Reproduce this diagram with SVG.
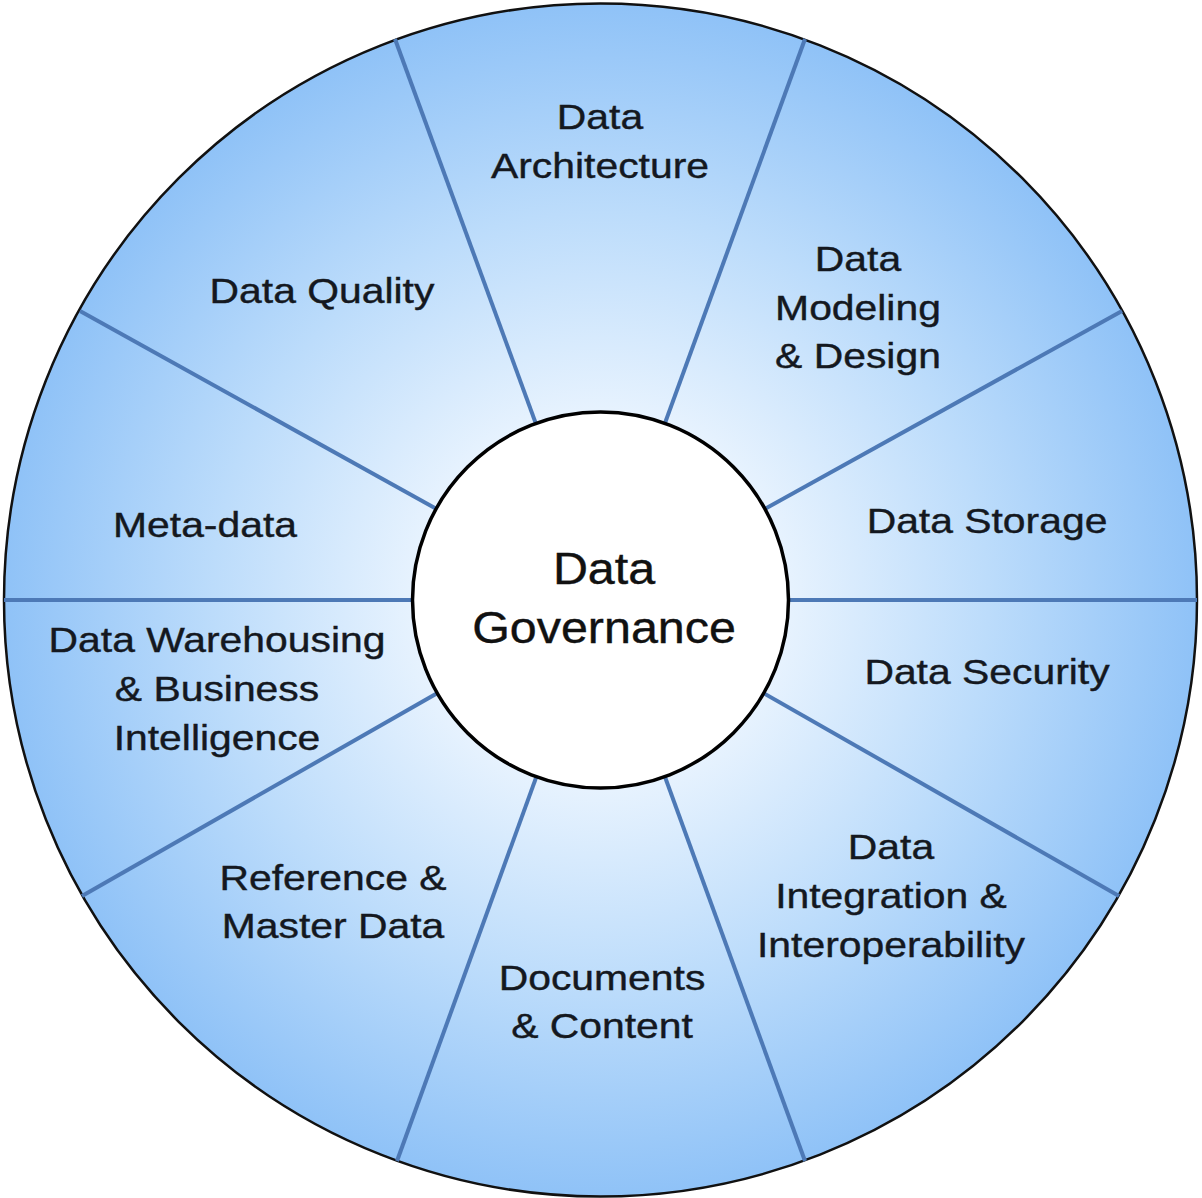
<svg xmlns="http://www.w3.org/2000/svg" width="1202" height="1198" viewBox="0 0 1202 1198">
<defs>
<radialGradient id="bg" cx="600.5" cy="600" r="597" gradientUnits="userSpaceOnUse">
<stop offset="0" stop-color="#ffffff"/>
<stop offset="0.32" stop-color="#e6f2fe"/>
<stop offset="0.65" stop-color="#bcdcfb"/>
<stop offset="1" stop-color="#8fc2f7"/>
</radialGradient>
<style>
.lbl{font-family:"Liberation Sans",Arial,sans-serif;font-size:36px;fill:#141820;stroke:#141820;stroke-width:0.4;text-anchor:middle}
.big{font-family:"Liberation Sans",Arial,sans-serif;font-size:44px;fill:#111;stroke:#111;stroke-width:0.4;text-anchor:middle}
.spoke{stroke:#4d79b6;stroke-width:4;fill:none}
</style>
</defs>
<rect width="1202" height="1198" fill="#ffffff"/>
<g id="wheel">
<circle cx="600.5" cy="600" r="596.5" fill="url(#bg)" stroke="#111" stroke-width="2.5"/>
</g>
<g id="connectors">
<line class="spoke" x1="600.5" y1="600" x2="1197" y2="600"/>
<line class="spoke" x1="600.5" y1="600" x2="4" y2="600"/>
<line class="spoke" x1="600.5" y1="600" x2="1122" y2="311"/>
<line class="spoke" x1="600.5" y1="600" x2="80" y2="311"/>
<line class="spoke" x1="600.5" y1="600" x2="1119" y2="896"/>
<line class="spoke" x1="600.5" y1="600" x2="82" y2="896"/>
<line class="spoke" x1="600.5" y1="600" x2="805" y2="39"/>
<line class="spoke" x1="600.5" y1="600" x2="395" y2="39"/>
<line class="spoke" x1="600.5" y1="600" x2="805" y2="1161"/>
<line class="spoke" x1="600.5" y1="600" x2="397" y2="1161"/>
</g>
<g id="governance">
<circle cx="600.5" cy="600" r="188" fill="#ffffff" stroke="#000" stroke-width="3.5"/>
<g transform="translate(604,0) scale(1.1,1)">
<text class="big" x="0" y="584">Data</text>
<text class="big" x="0" y="643">Governance</text>
</g>
</g>
<g id="architecture" transform="translate(600,0) scale(1.135,1)">
<text class="lbl" x="0" y="129">Data</text>
<text class="lbl" x="0" y="178">Architecture</text>
</g>
<g id="modeling" transform="translate(858,0) scale(1.135,1)">
<text class="lbl" x="0" y="271">Data</text>
<text class="lbl" x="0" y="320">Modeling</text>
<text class="lbl" x="0" y="368">&amp; Design</text>
</g>
<g id="storage" transform="translate(987,0) scale(1.135,1)">
<text class="lbl" x="0" y="533">Data Storage</text>
</g>
<g id="security" transform="translate(987,0) scale(1.135,1)">
<text class="lbl" x="0" y="684">Data Security</text>
</g>
<g id="integration" transform="translate(891,0) scale(1.135,1)">
<text class="lbl" x="0" y="859">Data</text>
<text class="lbl" x="0" y="908">Integration &amp;</text>
<text class="lbl" x="0" y="957">Interoperability</text>
</g>
<g id="documents" transform="translate(602,0) scale(1.135,1)">
<text class="lbl" x="0" y="990">Documents</text>
<text class="lbl" x="0" y="1038">&amp; Content</text>
</g>
<g id="reference" transform="translate(333,0) scale(1.135,1)">
<text class="lbl" x="0" y="890">Reference &amp;</text>
<text class="lbl" x="0" y="938">Master Data</text>
</g>
<g id="warehousing" transform="translate(217,0) scale(1.135,1)">
<text class="lbl" x="0" y="652">Data Warehousing</text>
<text class="lbl" x="0" y="701">&amp; Business</text>
<text class="lbl" x="0" y="750">Intelligence</text>
</g>
<g id="metadata" transform="translate(205,0) scale(1.135,1)">
<text class="lbl" x="0" y="537">Meta-data</text>
</g>
<g id="quality" transform="translate(322,0) scale(1.135,1)">
<text class="lbl" x="0" y="303">Data Quality</text>
</g>
</svg>
